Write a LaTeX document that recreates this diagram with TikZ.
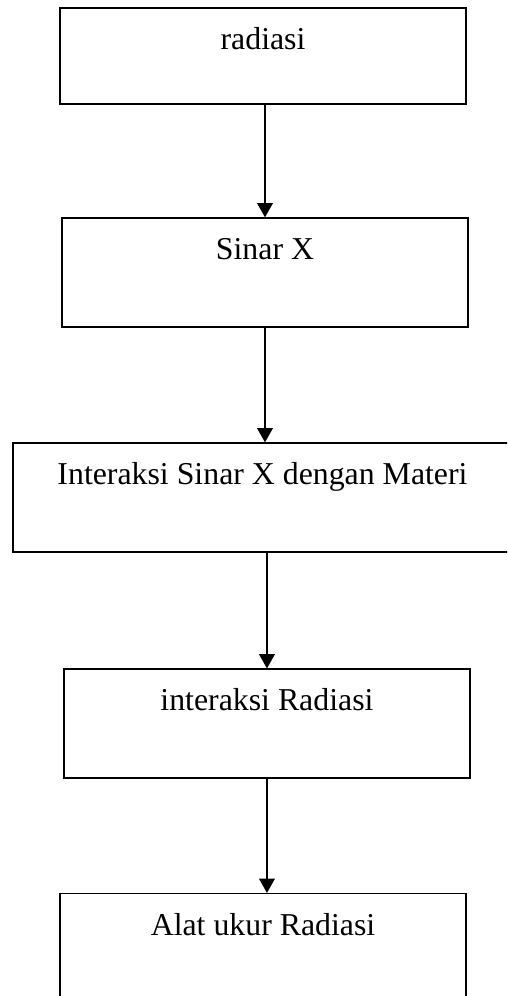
\documentclass[tikz,border=0pt]{standalone}
\usepackage{fontspec}
\setmainfont{Liberation Serif}
\usetikzlibrary{arrows.meta}

\begin{document}
\begin{tikzpicture}[x=1cm,y=1cm,
  flowbox/.style={draw,line width=0.5pt,inner sep=0pt,minimum height=1.445cm,
    text height=0.55cm,text depth=0.895cm,font=\fontsize{12}{14}\selectfont},
  flowarrow/.style={line width=0.45pt,-{Triangle[width=0.21cm,length=0.19cm]}}]
\path[use as bounding box] (0,0) rectangle (6.72,13.20);
\clip (0,0) rectangle (6.72,13.20);
\node[flowbox,minimum width=5.381cm,minimum height=1.272cm,text depth=0.722cm] (radiasi) at (3.486,12.458) {radiasi};
\node[flowbox,minimum width=5.381cm] (sinarx) at (3.512,9.588) {Sinar X};
\node[flowbox,minimum width=6.614cm] (materi) at (3.479,6.606) {Interaksi Sinar X dengan Materi};
\node[flowbox,minimum width=5.381cm] (intrad) at (3.538,3.610) {interaksi Radiasi};
\node[flowbox,minimum width=5.381cm] (alatukur) at (3.486,0.635) {Alat ukur Radiasi};
\draw[flowarrow] (radiasi.south -| sinarx.north) -- (sinarx.north);
\draw[flowarrow] (sinarx.south) -- (sinarx.south |- materi.north);
\draw[flowarrow] (intrad.north |- materi.south) -- (intrad.north);
\draw[flowarrow] (intrad.south) -- (intrad.south |- alatukur.north);
\end{tikzpicture}
\end{document}
